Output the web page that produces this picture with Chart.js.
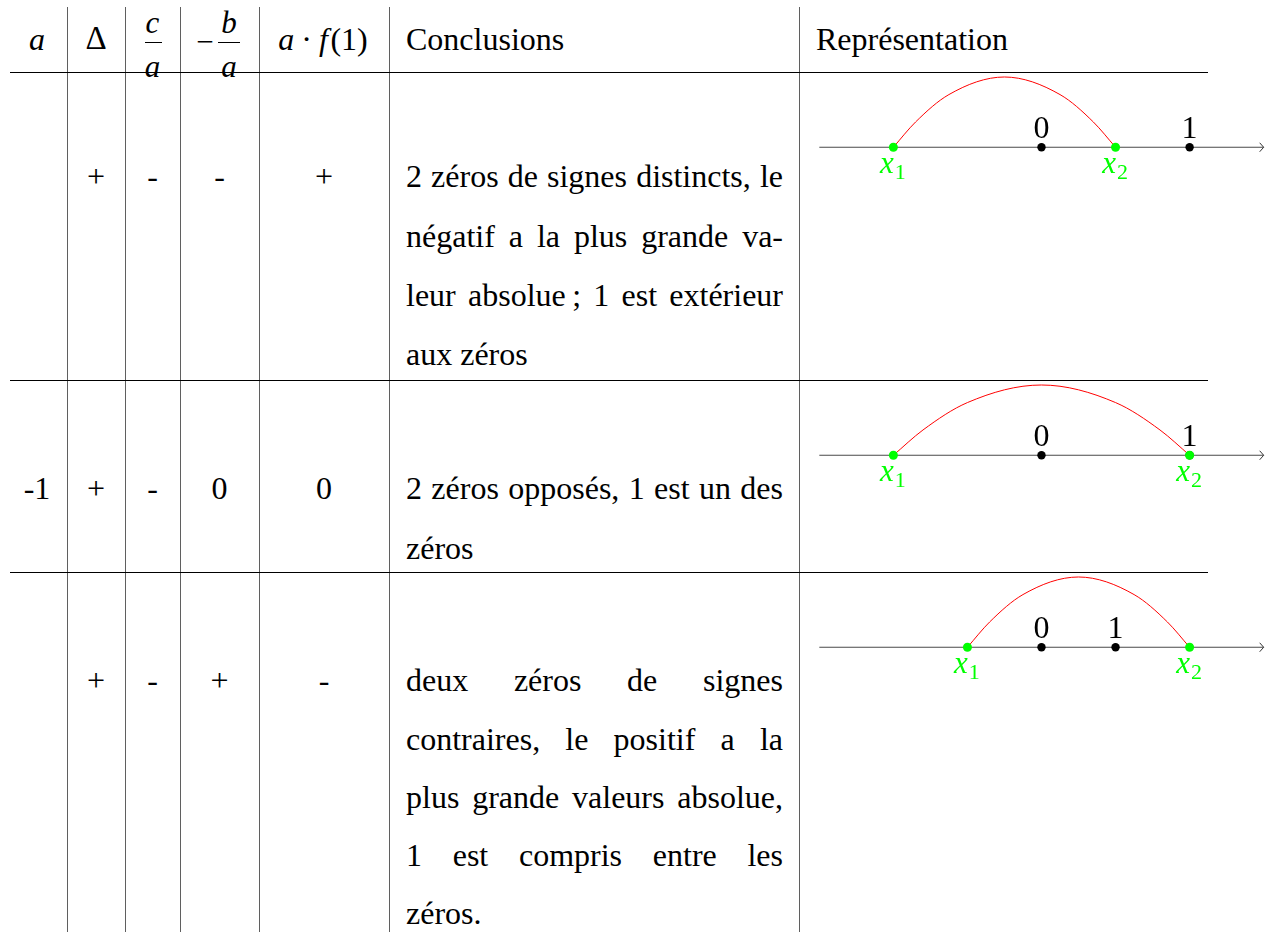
<!DOCTYPE html>
<html><head><meta charset="utf-8">
<script src="https://cdn.jsdelivr.net/npm/chart.js@4.4.1/dist/chart.umd.min.js"></script>
<style>
html,body{margin:0;padding:0;background:#fff;}
body{width:1272px;height:932px;overflow:hidden;position:relative;font-family:"Liberation Serif","DejaVu Serif",serif;color:#000;}
.t{position:absolute;white-space:nowrap;line-height:0.75;font-family:"Liberation Serif","DejaVu Serif",serif;}
.vl{position:absolute;width:1px;background:#5f5f5f;}
.hl{position:absolute;height:1px;background:#000;}
canvas{position:absolute;}
</style></head><body>
<script>
// ---------- data ----------
const aValues      = ['', '-1', ''];
const deltaSigns   = ['+', '+', '+'];
const caSigns      = ['-', '-', '-'];
const mbaSigns     = ['-', '0', '+'];
const af1Signs     = ['+', '0', '-'];
const conclusionLines = [
  ['2 zéros de signes distincts, le', 'négatif a la plus grande va-', 'leur absolue\u2009; 1 est extérieur', 'aux zéros'],
  ['2 zéros opposés, 1 est un des', 'zéros'],
  ['deux zéros de signes', 'contraires, le positif a la', 'plus grande valeurs absolue,', '1 est compris entre les', 'zéros.']
];
const zeroSubs   = ['1', '2'];
const zeros1 = [-1, 0.5];
const zeros2 = [-1, 1];
const zeros3 = [-0.5, 1];
const markLabels = ['0', '1'];
const marks1 = [0, 1];
const marks2 = [0, 1];
const marks3 = [0, 0.5];
const axisRange = [-1.5, 1.5];
const arcX1 = [-1, -0.85, -0.625, -0.25, 0.125, 0.35, 0.5];
const arcX2 = [-1, -0.8, -0.5, 0, 0.5, 0.8, 1];
const arcX3 = [-0.5, -0.35, -0.125, 0.25, 0.625, 0.85, 1];
const arcY  = [0, 0.18, 0.375, 0.5, 0.375, 0.18, 0];

const zeros = [zeros1, zeros2, zeros3];
const marks = [marks1, marks2, marks3];
const arcs  = [arcX1, arcX2, arcX3];

// ---------- layout ----------
const FS = 32;
const BASE_OFF = 0.7125;       // baseline offset for line-height .75
const vLines = [67, 125, 180, 259, 389, 799];
const hLines = [72, 380, 572];
const colCenters = [37, 96, 152.5, 219.5, 324];
const rowBase = [187, 499, 691];
const rowGap = [59.3, 59.3, 58.3];
const textLeft = 406, textWidth = 377;
const axisYs = [149, 457, 649];

function place(html, x, base, size, o) {
  o = o || {};
  const d = document.createElement('div');
  d.className = 't';
  d.innerHTML = html;
  d.style.fontSize = size + 'px';
  d.style.top = (base - BASE_OFF * size) + 'px';
  d.style.left = x + 'px';
  if (o.center) d.style.transform = 'translateX(-50%)';
  if (o.italic) d.style.fontStyle = 'italic';
  if (o.justify) {
    d.style.width = textWidth + 'px';
    d.style.whiteSpace = 'normal';
    d.style.textAlign = 'justify';
    d.style.textAlignLast = 'justify';
  }
  document.body.appendChild(d);
  return d;
}
function box(cls, l, t, w, h) {
  const d = document.createElement('div');
  d.className = cls;
  d.style.left = l + 'px'; d.style.top = t + 'px';
  if (w != null) d.style.width = w + 'px';
  if (h != null) d.style.height = h + 'px';
  document.body.appendChild(d);
}
vLines.forEach(x => box('vl', x, 7, null, 925));
hLines.forEach(y => box('hl', 10, y, 1198, null));

// header
place('a', 37, 50, 32, {center: true, italic: true});
place('Δ', 96, 50, 33, {center: true});
place('c', 152.5, 33, 31, {center: true, italic: true});
box('hl', 145, 42, 17, null);
place('a', 152.5, 77, 31, {center: true, italic: true});
place('−', 205, 52, 31, {center: true});
place('b', 229, 33, 31, {center: true, italic: true});
box('hl', 218, 42, 22, null);
place('a', 229, 77, 31, {center: true, italic: true});
place('<i>a</i><span style="margin:0 7px">·</span><i>f</i>&#8202;(1)', 323, 50, 32, {center: true});
place('Conclusions', textLeft, 50, FS);
place('Représentation', 816, 50, FS);

// rows
for (let r = 0; r < 3; r++) {
  const b = rowBase[r];
  const cells = [aValues[r], deltaSigns[r], caSigns[r], mbaSigns[r], af1Signs[r]];
  cells.forEach((v, c) => { if (v) place(v, colCenters[c], b, FS, {center: true}); });
  const lines = conclusionLines[r];
  lines.forEach((ln, k) => {
    place(ln, textLeft, b + k * rowGap[r], FS, {justify: k < lines.length - 1});
  });
}

// ---------- charts ----------
const labelPlugin = {
  id: 'numline',
  afterDatasetsDraw(chart) {
    const i = chart.options.plugins.numline.idx;
    const ctx = chart.ctx, xs = chart.scales.x, ys = chart.scales.y;
    const y0 = ys.getPixelForValue(0);
    const tip = xs.getPixelForValue(axisRange[1]);
    ctx.save();
    ctx.strokeStyle = '#333'; ctx.lineWidth = 1;
    ctx.beginPath(); ctx.moveTo(tip - 4, y0 - 4.5); ctx.lineTo(tip, y0); ctx.lineTo(tip - 4, y0 + 4.5); ctx.stroke();
    ctx.fillStyle = '#000'; ctx.font = '32px "Liberation Serif"';
    ctx.textAlign = 'center'; ctx.textBaseline = 'alphabetic';
    marks[i].forEach((v, k) => ctx.fillText(markLabels[k], xs.getPixelForValue(v), y0 - 9));
    ctx.textAlign = 'left'; ctx.fillStyle = '#00ff00';
    zeros[i].forEach((v, k) => {
      const px = xs.getPixelForValue(v);
      ctx.font = 'italic 31px "Liberation Serif"';
      const w1 = ctx.measureText('x').width;
      ctx.font = '22px "Liberation Serif"';
      const w2 = ctx.measureText(zeroSubs[k]).width;
      const s = px - (w1 + w2) / 2 - 1;
      ctx.font = 'italic 31px "Liberation Serif"';
      ctx.fillText('x', s, y0 + 26);
      ctx.font = '22px "Liberation Serif"';
      ctx.fillText(zeroSubs[k], s + w1 + 1, y0 + 32);
    });
    ctx.restore();
  }
};

const PPU = 151;
for (let i = 0; i < 3; i++) {
  const c = document.createElement('canvas');
  c.width = 472; c.height = 130;
  c.style.left = '800px'; c.style.top = (axisYs[i] - 90) + 'px';
  document.body.appendChild(c);
  new Chart(c, {
    type: 'scatter',
    data: { datasets: [
      { label: 'zéros', data: zeros[i].map(v => ({x: v, y: 0})), pointRadius: 4.5, pointBackgroundColor: '#00ff00', pointBorderWidth: 0, showLine: false, clip: false },
      { label: 'repères', data: marks[i].map(v => ({x: v, y: 0})), pointRadius: 4.2, pointBackgroundColor: '#000', pointBorderWidth: 0, showLine: false, clip: false },
      { label: 'parabole', data: arcs[i].map((v, k) => ({x: v, y: arcY[k]})), showLine: true, borderColor: '#ff0000', borderWidth: 1, pointRadius: 0, cubicInterpolationMode: 'monotone', clip: false },
      { label: 'axe', data: axisRange.map(v => ({x: v, y: 0})), showLine: true, borderColor: '#4a4a4a', borderWidth: 1.2, pointRadius: 0, clip: false }
    ]},
    options: {
      responsive: false, animation: false, devicePixelRatio: 1, events: [],
      layout: { padding: 0 },
      plugins: { legend: { display: false }, tooltip: { enabled: false }, numline: { idx: i } },
      scales: {
        x: { type: 'linear', display: false, min: -1.6, max: -1.6 + 472 / PPU },
        y: { type: 'linear', display: false, min: -40 / PPU, max: 90 / PPU }
      }
    },
    plugins: [labelPlugin]
  });
}
</script>
</body></html>
